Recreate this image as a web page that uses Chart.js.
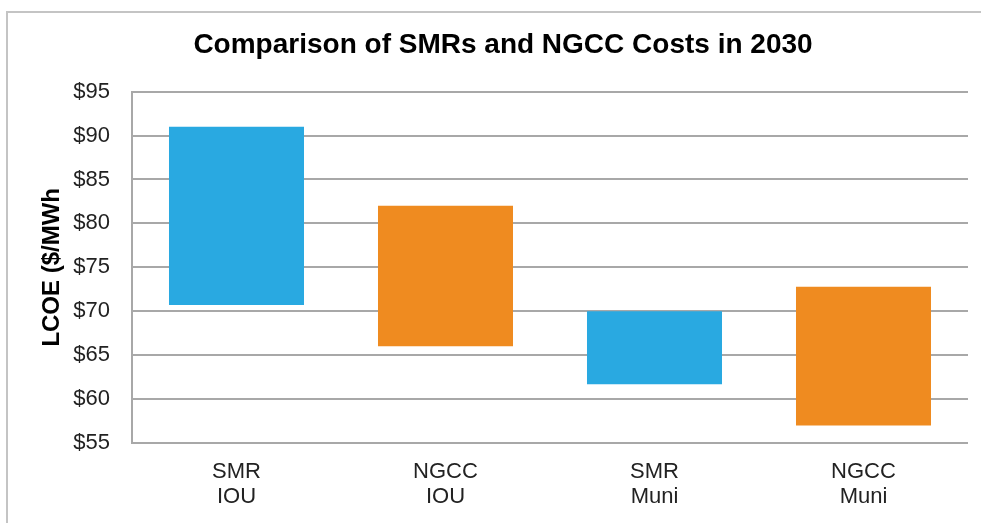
<!DOCTYPE html>
<html>
<head>
<meta charset="utf-8">
<script src="https://cdn.jsdelivr.net/npm/chart.js@4"></script>
<style>
  html, body { margin: 0; padding: 0; background: #fff; }
  #wrap { position: relative; width: 981px; height: 523px; overflow: hidden; }
  #frame { position: absolute; left: 6px; top: 11px; right: -10px; bottom: -10px;
           border-top: 2px solid #c4c4c4; border-left: 2px solid #c4c4c4; }
  canvas { position: absolute; left: 0; top: 0; }
</style>
</head>
<body>
<div id="wrap">
  <div id="frame"></div>
  <canvas id="chart" width="981" height="523"></canvas>
</div>
<script>
// categories (two-line labels) and the low/high range of each bar
const categories = [['SMR', 'IOU'], ['NGCC', 'IOU'], ['SMR', 'Muni'], ['NGCC', 'Muni']];
const lowValues  = [70.7, 66.0, 61.7, 57.0];
const highValues = [91.0, 82.0, 70.0, 72.8];
const barColors  = ['#29a9e1', '#ef8b20', '#29a9e1', '#ef8b20'];
const yTicks     = [55, 60, 65, 70, 75, 80, 85, 90, 95];

const ranges = lowValues.map((lo, i) => [lo, highValues[i]]);
const font = 'Liberation Sans, Arial, Helvetica, sans-serif';

new Chart(document.getElementById('chart'), {
  type: 'bar',
  data: {
    labels: categories,
    datasets: [{
      data: ranges,
      backgroundColor: barColors,
      borderWidth: 0,
      barPercentage: 0.646,
      categoryPercentage: 1
    }]
  },
  options: {
    responsive: false,
    animation: false,
    layout: { padding: { left: 38, right: 13, top: 0, bottom: 8 } },
    plugins: {
      legend: { display: false },
      tooltip: { enabled: false },
      title: {
        display: true,
        text: 'Comparison of SMRs and NGCC Costs in 2030',
        color: '#000',
        font: { family: font, size: 28, weight: 'bold' },
        padding: { top: 28, bottom: 30 }
      }
    },
    scales: {
      x: {
        grid: { display: false, drawTicks: false },
        border: { display: false },
        ticks: {
          color: '#222',
          font: { family: font, size: 22, lineHeight: 1.15 },
          padding: 16,
          maxRotation: 0
        },
        afterFit: s => { s.height = 72; }
      },
      y: {
        min: yTicks[0],
        max: yTicks[yTicks.length - 1],
        afterBuildTicks: s => { s.ticks = yTicks.map(v => ({ value: v })); },
        grid: { color: '#a8a8a8', lineWidth: 2, drawTicks: false },
        border: { display: true, color: '#a8a8a8', width: 2 },
        ticks: {
          color: '#222',
          font: { family: font, size: 22 },
          padding: 22,
          callback: v => '$' + v
        },
        title: {
          display: true,
          text: 'LCOE ($/MWh',
          color: '#000',
          font: { family: font, size: 24, weight: 'bold' },
          padding: { top: 0, bottom: 0 }
        },
        afterFit: s => { s.width = 94; }
      }
    }
  }
});
</script>
</body>
</html>
